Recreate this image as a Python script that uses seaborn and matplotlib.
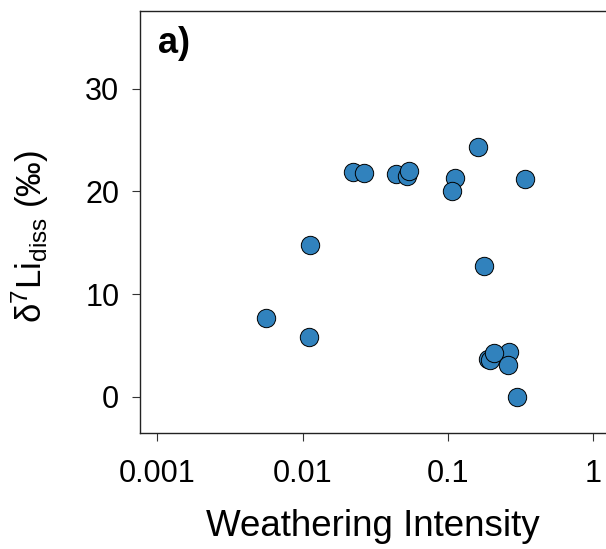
import numpy as np
import pandas as pd
import matplotlib
matplotlib.use("Agg")
import matplotlib.pyplot as plt
import seaborn as sns

# data
weathering = [0.00561, 0.01103, 0.01121, 0.02217, 0.02666, 0.04385, 0.05272,
              0.05438, 0.1123, 0.1071, 0.1624, 0.1778, 0.3423, 0.2987,
              0.1895, 0.1956, 0.2656, 0.2095, 0.2615]
d7li_diss = [7.64, 5.84, 14.75, 21.86, 21.82, 21.69, 21.53,
             22.01, 21.27, 20.06, 24.29, 12.73, 21.23, 0.0,
             3.67, 3.57, 4.32, 4.23, 3.09]

x_ticks = [0.001, 0.01, 0.1, 1]
x_ticklabels = ["0.001", "0.01", "0.1", "1"]
y_ticks = [0, 10, 20, 30]

df = pd.DataFrame({"wi": weathering, "d7li": d7li_diss})

# -----------------------------
# style
# -----------------------------
sns.set_style("ticks")
plt.rcParams["font.family"] = ["Liberation Sans", "DejaVu Sans"]
plt.rcParams["mathtext.default"] = "regular"
plt.rcParams["text.color"] = "black"
plt.rcParams["axes.labelcolor"] = "black"
plt.rcParams["xtick.labelcolor"] = "black"
plt.rcParams["ytick.labelcolor"] = "black"

fig = plt.figure(figsize=(6.06, 5.49), dpi=100)
ax = fig.add_axes([0.2302, 0.2113, 0.7698, 0.7687])

sns.scatterplot(
    data=df, x="wi", y="d7li", ax=ax,
    s=175, color="#3182bd", edgecolor="black", linewidth=0.7,
    legend=False, zorder=3
)

ax.set_xscale("log")
ax.set_xlim(10 ** -3.1226, 10 ** 0.0896)
ax.set_ylim(-3.54, 37.57)

ax.set_xticks(x_ticks)
ax.set_xticklabels(x_ticklabels)
ax.xaxis.set_minor_locator(matplotlib.ticker.NullLocator())
ax.set_yticks(y_ticks)

ax.tick_params(axis="both", labelsize=22, length=6, width=0.8, color="#333333")
ax.tick_params(axis="x", pad=13)
ax.tick_params(axis="y", pad=8.5)

# box frame (right edge runs off the canvas)
for side in ["left", "bottom", "top"]:
    ax.spines[side].set_visible(True)
    ax.spines[side].set_linewidth(1.0)
    ax.spines[side].set_color("#222222")
ax.spines["right"].set_visible(False)

ax.set_xlabel("Weathering Intensity", fontsize=26.5, labelpad=14)
ax.set_ylabel(r"δ$^7$Li$_{diss}$ (‰)", fontsize=25)
ax.yaxis.set_label_coords(-0.19, 0.465)

ax.text(0.04, 0.965, "a)", transform=ax.transAxes, fontsize=26,
        fontweight="bold", va="top", ha="left")

fig.savefig("out.png", dpi=100)
